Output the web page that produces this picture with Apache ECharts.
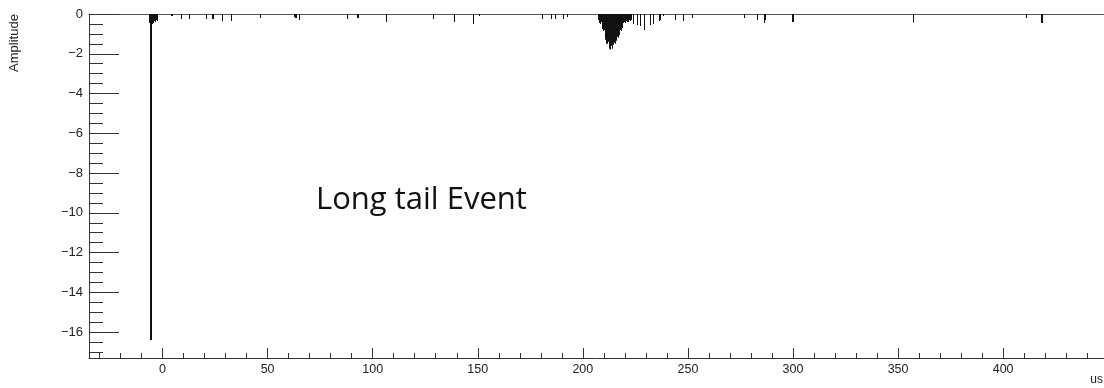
<!DOCTYPE html>
<html><head><meta charset="utf-8">
<script src="https://cdn.jsdelivr.net/npm/echarts@6/dist/echarts.min.js"></script>
<style>html,body{margin:0;padding:0;background:#fff}#c{width:1104px;height:388px}</style>
</head><body><div id="c"></div>
<script>
// histogram bin centres (us) and amplitudes
const times = [
  -6.0, -5.5, -5.0, -4.5, -4.0, -3.5, -3.0, -2.5,
  4.5, 9.0, 13.0, 21.0, 24.0, 28.5, 33.0, 46.5, 63.0, 63.5, 65.0, 88.0, 93.0, 106.5,
  129.0, 139.0, 148.0, 151.0, 181.0, 185.0, 187.0, 191.0, 192.5,
  207.5, 208.0, 208.5, 209.0, 209.5, 210.0, 210.5, 211.0, 211.5, 212.0, 212.5, 213.0,
  213.5, 214.0, 214.5, 215.0, 215.5, 216.0, 216.5, 217.0, 217.5, 218.0, 218.5, 219.0,
  219.5, 220.0, 220.5, 221.0, 221.5, 222.0, 222.5, 223.0,
  224.0, 226.0, 227.5, 229.5, 232.0, 233.5, 236.5, 237.0, 238.5, 244.0, 248.0, 252.0,
  277.0, 283.0, 286.5, 287.0, 300.0, 357.5, 411.0, 418.5
];
const amps = [
  -0.45, -16.4, -0.5, -0.45, -0.35, -0.4, -0.3, -0.35,
  -0.1, -0.25, -0.25, -0.25, -0.25, -0.35, -0.35, -0.2, -0.15, -0.2, -0.3, -0.25, -0.2, -0.4,
  -0.25, -0.4, -0.5, -0.1, -0.25, -0.25, -0.25, -0.25, -0.15,
  -0.3, -0.45, -0.5, -0.4, -0.75, -0.85, -0.8, -1.3, -1.5, -1.4, -1.75, -1.8,
  -1.6, -1.75, -1.55, -1.45, -1.5, -1.35, -1.15, -1.2, -1.05, -0.8, -0.85, -0.7,
  -0.45, -0.4, -0.45, -0.35, -0.4, -0.3, -0.35, -0.3,
  -0.5, -0.55, -0.6, -0.8, -0.55, -0.5, -0.35, -0.3, -0.1, -0.3, -0.35, -0.2,
  -0.2, -0.3, -0.45, -0.3, -0.4, -0.43, -0.2, -0.45
];
const xMajorTicks = [0, 50, 100, 150, 200, 250, 300, 350, 400];
const yMajorTicks = [0, -2, -4, -6, -8, -10, -12, -14, -16];
const xTitle = 'us';
const yTitle = 'Amplitude';
const annotation = 'Long tail Event';

const BIN = 0.5;
const X_MIN = -35, X_MAX = 448, Y_MIN = -17.3, Y_MAX = 0;
const xMinorTicks = [];
for (let v = -30; v <= 440; v += 10) if (v % 50 !== 0) xMinorTicks.push(v);
const yMinorTicks = [];
for (let v = -17; v < 0; v += 0.5) if (Math.abs(v % 2) > 1e-9) yMinorTicks.push(v);

const data = times.map((t, i) => [t, amps[i]]);
const AX = '#333';
const FONT = 'Liberation Sans';

const chart = echarts.init(document.getElementById('c'), null, {renderer: 'canvas'});
chart.setOption({
  animation: false,
  backgroundColor: '#fff',
  grid: {left: 89, right: 0, top: 14, bottom: 30, containLabel: false},
  xAxis: [
    {type: 'value', min: X_MIN, max: X_MAX, position: 'bottom', offset: 0,
     axisLine: {show: true, onZero: false, lineStyle: {color: AX, width: 1}},
     axisTick: {show: true, inside: true, length: 10, customValues: xMajorTicks, lineStyle: {color: AX}},
     axisLabel: {customValues: xMajorTicks, margin: 5, fontSize: 12.5, color: '#222', fontFamily: FONT},
     splitLine: {show: false}},
    {type: 'value', min: X_MIN, max: X_MAX, position: 'bottom', offset: 0,
     axisLine: {show: false, onZero: false},
     axisTick: {show: true, inside: true, length: 5, customValues: xMinorTicks, lineStyle: {color: AX}},
     axisLabel: {show: false}, splitLine: {show: false}},
    {type: 'value', min: X_MIN, max: X_MAX, position: 'top', offset: 0,
     axisLine: {show: true, onZero: false, lineStyle: {color: '#555', width: 1}},
     axisTick: {show: false}, axisLabel: {show: false}, splitLine: {show: false}}
  ],
  yAxis: [
    {type: 'value', min: Y_MIN, max: Y_MAX, position: 'left', offset: 0,
     axisLine: {show: true, onZero: false, lineStyle: {color: AX, width: 1}},
     axisTick: {show: true, inside: true, length: 30, customValues: yMajorTicks, lineStyle: {color: AX}},
     axisLabel: {customValues: yMajorTicks, margin: 6, fontSize: 13, color: '#222', fontFamily: FONT,
       formatter: v => v === 0 ? '0' : (v < 0 ? '\u2212' + Math.abs(v) : String(v))},
     splitLine: {show: false}},
    {type: 'value', min: Y_MIN, max: Y_MAX, position: 'left', offset: 0,
     axisLine: {show: false, onZero: false},
     axisTick: {show: true, inside: true, length: 14, customValues: yMinorTicks, lineStyle: {color: AX}},
     axisLabel: {show: false}, splitLine: {show: false}}
  ],
  series: [{
    type: 'custom',
    xAxisIndex: 0, yAxisIndex: 0,
    data: data,
    renderItem: function (params, api) {
      const x = api.value(0), a = api.value(1);
      const p0 = api.coord([x - BIN / 2, 0]);
      const p1 = api.coord([x + BIN / 2, a]);
      const x0 = Math.round(p0[0]);
      const w = Math.max(1, Math.round(p1[0]) - x0);
      return {type: 'rect', shape: {x: x0, y: p0[1], width: w, height: p1[1] - p0[1]},
              style: {fill: '#111'}};
    }
  }],
  graphic: [
    {type: 'text', left: 316, top: 185, style: {text: annotation, font: '400 31px "Open Sans"', fill: '#111'}},
    {type: 'text', right: 1, top: 374, style: {text: xTitle, font: '12px "Liberation Sans"', fill: '#222'}},
    {type: 'text', x: 14, y: 43, rotation: Math.PI / 2,
     style: {text: yTitle, font: '13px "Liberation Sans"', fill: '#222', textAlign: 'center', textVerticalAlign: 'middle'}}
  ]
});
</script>
</body></html>
